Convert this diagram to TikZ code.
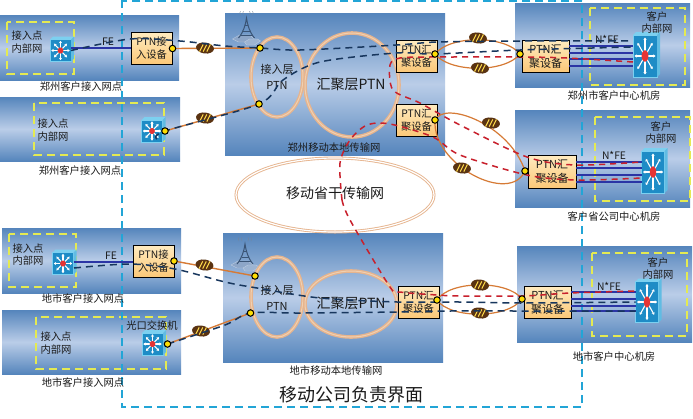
\documentclass[tikz,border=0pt]{standalone}
\usepackage{fontspec}
\setmainfont{Noto Sans CJK SC}
\usetikzlibrary{arrows.meta,calc,shapes.geometric}
\definecolor{ptop}{HTML}{5585BC}
\definecolor{pmid}{HTML}{BACDE8}
\definecolor{navy}{HTML}{17365D}
\definecolor{redd}{HTML}{C8202C}
\definecolor{bound}{HTML}{22A5D6}
\definecolor{yel}{HTML}{E4EA52}
\definecolor{orng}{HTML}{D67A35}
\definecolor{ringc}{HTML}{E6B48E}
\definecolor{ringl}{HTML}{F0D0B0}
\definecolor{swc}{HTML}{1E8CC6}
\definecolor{swl}{HTML}{7CD0F0}
\definecolor{bean1}{HTML}{5A3312}
\definecolor{txt}{HTML}{1A1A1A}
\definecolor{boxt}{HTML}{FFEBC0}
\definecolor{boxb}{HTML}{FBC878}
\definecolor{felink}{HTML}{2B35A5}
\definecolor{hexa}{HTML}{8DA6C8}
\definecolor{hexb}{HTML}{9DB4D2}
\tikzset{
 panelfill/.style={top color=ptop,bottom color=ptop,middle color=pmid},
 ptnbox/.style={draw=black,line width=.8pt,top color=boxt,bottom color=boxb,inner sep=0pt,outer sep=0pt,align=center,text=txt,font=\fontsize{10.3}{13}\selectfont},
 ptnbig/.style={ptnbox,font=\fontsize{11}{14}\selectfont},
 yzone/.style={draw=yel,line width=2pt,dash pattern=on 8pt off 5pt},
 boundary/.style={draw=bound,line width=2.2pt,dash pattern=on 8pt off 5pt},
 dashnavy/.style={draw=navy,line width=1.5pt,dash pattern=on 7pt off 5pt},
 dashred/.style={draw=redd,line width=1.5pt,dash pattern=on 6pt off 5pt},
 fe/.style={draw=felink,line width=1.6pt},
 ol/.style={draw=orng,line width=1.4pt},
 ring/.style={draw=ringc,line width=1.3pt,double=ringl,double distance=1pt},
 corering/.style={draw=ringc,line width=.9pt,double=white,double distance=1.2pt},
 thinring/.style={draw=orng,line width=1.2pt},
 dot/.style={circle,draw=black,fill=yellow!80!orange,line width=1pt,minimum size=6.5pt,inner sep=0pt},
 lab/.style={text=txt,align=center,font=\fontsize{10.3}{12.8}\selectfont},
 swf/.style={fill=swc,draw=swl,line width=.5pt,inner sep=0pt,outer sep=0pt},
 beanst/.style={ellipse,fill=bean1,inner sep=0pt,minimum width=18pt,minimum height=11pt}
}
% name cx cy w h
\newcommand\swt[5]{%
 \node[swf,minimum width=#4pt,minimum height=#5pt] (#1) at (#2,#3) {};
 \fill[swl] (#1.north west) -- ++(3,-3) -- ($(#1.north east)+(3,-3)$) -- (#1.north east) -- cycle;
 \fill[swl!70!swc] (#1.north east) -- ++(3,-3) -- ($(#1.south east)+(3,-3)$) -- (#1.south east) -- cycle;
 \foreach \a in {0,45,...,315}{
  \draw[white,line width=1.1pt,-{Stealth[length=2.4pt,width=3.2pt]}] ($(#1.center)+({#4*.11*cos(\a)},{#5*.11*sin(\a)})$) -- ($(#1.center)+({#4*.44*cos(\a)},{#5*.44*sin(\a)})$);}
 \fill[red!70!pink!90!black] (#1.center) ellipse [x radius=#4*.14,y radius=#5*.14];
}
\newcommand\bean[3]{%
 \node[beanst,rotate=-8] (#1) at (#2,#3) {};
 \foreach \d in {-3.6,0,3.6}{
  \draw[orange!40!yellow!70,line width=1pt] ($(#1.center)+(\d-1.8,3.6)$) -- ($(#1.center)+(\d+1.8,-3.6)$);}
}
\newcommand\tower[2]{%
 \begin{scope}[shift={(#1,#2)}]
  \fill[hexa,draw=hexb!60!white,line width=.3pt] (-14,11) -- (-7,7) -- (3,7) -- (8,11) -- (0,14) -- (-8,14) -- cycle;
  \fill[hexb,draw=hexb!60!white,line width=.3pt] (-2,14) -- (3,11) -- (11,11) -- (14,13) -- (8,17) -- (0,17) -- cycle;
  \draw[navy!85,line width=1pt] (-8,10) .. controls (-3,4) and (-1,-3) .. (0,-10) .. controls (1,-3) and (3,4) .. (8,10);
  \draw[navy!85,line width=.9pt] (-3.5,3) -- (3.5,3) (-6,7) -- (6,7) (-1.8,-3) -- (1.8,-3);
  \draw[navy!60,line width=.4pt] (-3,-13) arc[start angle=140,end angle=220,radius=3];
  \draw[navy!60,line width=.4pt] (-6,-13) arc[start angle=140,end angle=220,radius=3];
  \draw[navy!60,line width=.4pt] (3,-13) arc[start angle=40,end angle=-40,radius=3];
  \draw[navy!60,line width=.4pt] (6,-13) arc[start angle=40,end angle=-40,radius=3];
 \end{scope}
}
\begin{document}
\begin{tikzpicture}[x=1pt,y=-1pt]
\useasboundingbox (0,0) rectangle (693,418);
\fill[white] (0,0) rectangle (693,418);
% panels
\path[panelfill] (0,15) rectangle (179,80);
\path[panelfill] (0,97) rectangle (180,161);
\path[panelfill] (225,13) rectangle (445,155);
\path[panelfill] (515,3) rectangle (690,87);
\path[panelfill] (515,110) rectangle (690,207);
\path[panelfill] (2,228) rectangle (181,293);
\path[panelfill] (2,310) rectangle (181,374);
\path[panelfill] (223,233) rectangle (443,362);
\path[panelfill] (517,246) rectangle (692,342);
% yellow zones
\draw[yzone] (7,22) rectangle (74,74);
\draw[yzone] (34,103) rectangle (164,155);
\draw[yzone] (590,8) rectangle (685,85);
\draw[yzone] (595,117) rectangle (690,201);
\draw[yzone] (9,234) rectangle (76,287);
\draw[yzone] (36,317) rectangle (166,369);
\draw[yzone] (592,253) rectangle (687,336);
% towers
\tower{246.5}{28}
\tower{245}{254}
% rings
\draw[ring] (277,77) ellipse [x radius=26,y radius=40];
\draw[ring] (352,85) ellipse [x radius=47,y radius=52];
\draw[ring] (277,297) ellipse [x radius=26,y radius=40];
\draw[ring] (351,304) ellipse [x radius=46,y radius=33];
\draw[corering] (335,195) ellipse [x radius=99,y radius=37];
% boundary
\draw[boundary] (122,0) -- (122,407) -- (582,407) -- (582,0);
\draw[boundary] (582,1) -- (122,1);
% devices
\node[ptnbox,minimum width=41pt,minimum height=32pt] (b1) at (151.5,48) {PTN接\\入设备};
\node[ptnbox,minimum width=41pt,minimum height=32pt] (b2) at (416.5,56) {PTN汇\\聚设备};
\node[ptnbox,minimum width=41pt,minimum height=32pt] (b3) at (416.5,120) {PTN汇\\聚设备};
\node[ptnbig,minimum width=47pt,minimum height=32pt] (b4) at (545.5,56) {PTN汇\\聚设备};
\node[ptnbig,minimum width=48pt,minimum height=33pt] (b5) at (552,171.5) {PTN汇\\聚设备};
\node[ptnbox,minimum width=41pt,minimum height=32pt] (b6) at (153.5,261) {PTN接\\入设备};
\node[ptnbox,minimum width=41pt,minimum height=32pt] (b7) at (418.5,302) {PTN汇\\聚设备};
\node[ptnbig,minimum width=47pt,minimum height=32pt] (b8) at (547.5,302) {PTN汇\\聚设备};
\swt{s1}{60.5}{50.5}{21}{22}
\swt{s2}{152}{131}{21}{22}
\swt{s3}{63}{263.5}{21}{22}
\swt{s4}{152.5}{344}{21}{22}
\swt{s5}{645}{56}{24}{42}
\swt{s6}{653}{172}{23}{42}
\swt{s7}{647}{302}{23}{41}
% solid blue links
\draw[fe] (71,48) -- (131,48);
\draw[fe] (73.5,262) -- (133,262);
\foreach \y in {46,53,59,66}{\draw[fe] (569,\y) -- (633,\y);}
\foreach \y in {162,168,175,182}{\draw[fe] (576,\y) -- (641.5,\y);}
\foreach \y in {292,299,306,311}{\draw[fe] (571,\y) -- (635.5,\y);}
% dot anchors
\coordinate (d1) at (172.5,48.5);
\coordinate (d2) at (165,131);
\coordinate (d3) at (260,48);
\coordinate (d4) at (259,104);
\coordinate (d5) at (435,54);
\coordinate (d6) at (435,120);
\coordinate (d7) at (520,54);
\coordinate (d8) at (525,171);
\coordinate (d9) at (174,261);
\coordinate (d10) at (167.5,344);
\coordinate (d11) at (255,276);
\coordinate (d12) at (250.5,313);
\coordinate (d13) at (437,300);
\coordinate (d14) at (522,299);
% orange links
\draw[ol] (d1) -- (d3);
\draw[ol] (d2) -- (d4);
\draw[ol] (d9) -- (d11);
\draw[ol] (d10) -- (d12);
\draw[thinring] (d5) .. controls (450,35) and (505,35) .. (d7);
\draw[thinring] (d5) .. controls (450,73) and (505,73) .. (d7);
\draw[thinring] (d13) .. controls (450,280) and (508,280) .. (d14);
\draw[thinring] (d13) .. controls (450,319) and (508,319) .. (d14);
\draw[thinring] (d6) .. controls (445,100) and (510,125) .. (d8);
\draw[thinring] (d6) .. controls (432,165) and (510,205) .. (d8);
% beans
\bean{e1}{205}{48}
\bean{e2}{205}{118}
\bean{e3}{204.5}{265}
\bean{e4}{201}{331}
\bean{e5}{478}{38}
\bean{e6}{480}{68}
\bean{e7}{491}{123}
\bean{e8}{462}{168}
\bean{e9}{480}{285}
\bean{e10}{480}{313}
% labels
\node[lab] (t1) at (27,42) {接入点\\内部网};
\node[lab] (t2) at (53,130) {接入点\\内部网};
\node[lab] (t3) at (81,87) {郑州客户接入网点};
\node[lab] (t4) at (80,171) {郑州客户接入网点};
\node[lab] (t5) at (108,42) {FE};
\node[lab] (t6) at (657,22.5) {客户\\内部网};
\node[lab] (t7) at (607,39) {N*FE};
\node[lab] (t8) at (614,96) {郑州市客户中心机房};
\node[lab] (t9) at (614,217) {客户省公司中心机房};
\node[lab] (t10) at (661,132.5) {客户\\内部网};
\node[lab] (t11) at (614,155) {N*FE};
\node[lab] (t12) at (658,268.5) {客户\\内部网};
\node[lab] (t13) at (609,286) {N*FE};
\node[lab] (t14) at (614,357) {地市客户中心机房};
\node[lab] (t15) at (83,299) {地市客户接入网点};
\node[lab] (t16) at (83,383) {地市客户接入网点};
\node[lab] (t17) at (28,254.5) {接入点\\内部网};
\node[lab] (t18) at (56,343) {接入点\\内部网};
\node[lab] (t19) at (111,256) {FE};
\node[lab] (t20) at (152,326) {光口交换机};
\node[lab,font=\fontsize{11}{16}\selectfont] (t21) at (277,77) {接入层\\PTN};
\node[lab,font=\fontsize{14}{16}\selectfont] (t22) at (351,84) {汇聚层PTN};
\node[lab] (t23) at (334,148) {郑州移动本地传输网};
\node[lab,font=\fontsize{14}{16}\selectfont] (t24) at (335,193) {移动省干传输网};
\node[lab,font=\fontsize{11}{16}\selectfont] (t25) at (277,297.5) {接入层\\PTN};
\node[lab,font=\fontsize{14}{16}\selectfont] (t26) at (351,303) {汇聚层PTN};
\node[lab] (t27) at (336,371) {地市移动本地传输网};
\node[lab,font=\fontsize{18}{20}\selectfont] (t28) at (351,395) {移动公司负责界面};
% dashed routes
\draw[dashnavy] plot[smooth,tension=.5] coordinates {(s1.east) (130,39) (180,41) (225,46) (d3) (300,50) (397,45) (437,42) (520,41) (633,41)};
\draw[dashnavy] plot[smooth,tension=.5] coordinates {(157,139) (d2) (d4) (283,80) (320,62) (396,53) (d5) (520,50) (633,47)};
\draw[dashnavy] plot[smooth,tension=.5] coordinates {(74,268) (130,264) (175,269) (225,282) (257,288) (320,298) (397,302) (460,302) (523,303) (635.5,302)};
\draw[dashnavy] plot[smooth,tension=.5] coordinates {(d10) (225,325) (d12) (300,313) (400,312) (450,311) (523,311) (635.5,311)};
\draw[dashred] plot[smooth,tension=.5] coordinates {(342,200) (340,163) (350,140) (367,125) (390,124) (433,137) (460,155) (527,175) (577,180) (641.5,178)};
\draw[dashred] plot[smooth,tension=.5] coordinates {(633,62) (567,58) (520,57) (450,57) (430,57) (400,58) (390,65) (393,90) (420,103) (460,125) (527,157) (575,165) (641.5,162)};
\draw[dashred] plot[smooth,tension=.5] coordinates {(342,200) (350,220) (390,287) (400,292) (437,295) (460,296) (523,296) (570,293) (635.5,291)};
% connection dots
\foreach \n in {d1,d2,d3,d4,d5,d6,d7,d8,d9,d10,d11,d12,d13,d14}{
 \node[dot] (m\n) at (\n) {};}
\end{tikzpicture}
\end{document}
